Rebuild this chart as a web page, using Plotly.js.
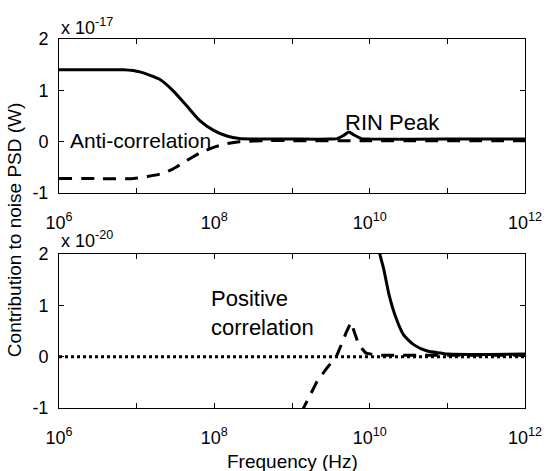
<!DOCTYPE html>
<html>
<head>
<meta charset="utf-8">
<script src="https://cdn.plot.ly/plotly-3.0.1.min.js"></script>
<style>html,body{margin:0;padding:0;background:#fff;}#chart{width:548px;height:471px;}</style>
</head>
<body>
<div id="chart"></div>
<script>
// Top panel (units of 1e-17 W)
var topSolidFreq = [1e6, 3e6, 6.8e6, 1.1e7, 2e7, 2.95e7, 4.4e7, 6.5e7, 9.8e7, 1.45e8, 2.1e8, 3.5e8, 1e9, 3e9, 3.8e9, 4.6e9, 5.4e9, 6.3e9, 7.8e9, 1e10, 1e11, 1e12];
var topSolidVal  = [1.40, 1.40, 1.40, 1.36, 1.21, 0.99, 0.70, 0.41, 0.22, 0.11, 0.06, 0.05, 0.05, 0.05, 0.06, 0.12, 0.19, 0.13, 0.06, 0.05, 0.05, 0.05];
var topDashFreq  = [1e6, 3e6, 9.1e6, 1.35e7, 2e7, 2.95e7, 4.4e7, 6.5e7, 9.8e7, 1.45e8, 2.1e8, 5e8, 1e9, 1e10, 1e12];
var topDashVal   = [-0.72, -0.72, -0.72, -0.68, -0.63, -0.53, -0.37, -0.22, -0.11, -0.04, 0.0, 0.02, 0.02, 0.02, 0.02];

// Bottom panel (units of 1e-20 W)
var botDotFreq   = [1e6, 1e12];
var botDotVal    = [0, 0];
var botDashFreq  = [3e8, 1.41e9, 2.09e9, 2.82e9, 3.72e9, 4.47e9, 5.01e9, 5.75e9, 7.24e9, 8.91e9, 1.2e10, 1e11, 1e12];
var botDashVal   = [-3, -1.0, -0.49, -0.22, 0.0, 0.29, 0.48, 0.67, 0.23, 0.07, 0.03, 0.03, 0.03];
var botSolidFreq = [1e10, 1.12e10, 1.35e10, 1.51e10, 1.78e10, 2.19e10, 2.75e10, 3.72e10, 5.5e10, 8.3e10, 1e11, 1e12];
var botSolidVal  = [3.2, 2.6, 2.0, 1.72, 1.2, 0.75, 0.42, 0.23, 0.11, 0.07, 0.05, 0.05];

var xTickVals = [1e6, 1e8, 1e10, 1e12];
var xTickText = ['10<sup>6</sup>', '10<sup>8</sup>', '10<sup>10</sup>', '10<sup>12</sup>'];
var xMinorVals = [1e7, 1e9, 1e11];
var yTickVals = [-1, 0, 1, 2];
var yTickText = ['-1', '0', '1', '2'];

var FONT = 'Liberation Sans, Arial, Helvetica, sans-serif';

var traces = [
  {x: topSolidFreq, y: topSolidVal, xaxis: 'x', yaxis: 'y', mode: 'lines',
   line: {color: '#000', width: 3, shape: 'spline', smoothing: 0.6}},
  {x: topDashFreq, y: topDashVal, xaxis: 'x', yaxis: 'y', mode: 'lines',
   line: {color: '#000', width: 3, dash: '13px,9px', shape: 'spline', smoothing: 0.6}},
  {x: botDotFreq, y: botDotVal, xaxis: 'x2', yaxis: 'y2', mode: 'lines',
   line: {color: '#000', width: 3, dash: '3px,3px'}},
  {x: botDashFreq, y: botDashVal, xaxis: 'x2', yaxis: 'y2', mode: 'lines',
   line: {color: '#000', width: 3, dash: '13px,9px'}},
  {x: botSolidFreq, y: botSolidVal, xaxis: 'x2', yaxis: 'y2', mode: 'lines',
   line: {color: '#000', width: 3, shape: 'spline', smoothing: 0.6}}
];

function xax(anchor) {
  return {type: 'log', range: [6, 12], domain: [0, 1], anchor: anchor,
    showline: true, mirror: 'ticks', linecolor: '#000', linewidth: 1,
    ticks: 'inside', ticklen: 5, tickcolor: '#000', tickwidth: 1,
    tickvals: xTickVals, ticktext: xTickText, ticklabelstandoff: 13,
    minor: {tickvals: xMinorVals, ticks: 'inside', ticklen: 5, tickcolor: '#000', tickwidth: 1, showgrid: false},
    showgrid: false, zeroline: false,
    tickfont: {family: FONT, size: 18, color: '#000'}};
}
function yax(anchor, domain) {
  return {range: [-1, 2], domain: domain, anchor: anchor,
    showline: true, mirror: 'ticks', linecolor: '#000', linewidth: 1,
    ticks: 'inside', ticklen: 5, tickcolor: '#000', tickwidth: 1,
    tickvals: yTickVals, ticktext: yTickText, ticklabelstandoff: 6,
    showgrid: false, zeroline: false,
    tickfont: {family: FONT, size: 18, color: '#000'}};
}

var layout = {
  width: 548, height: 471,
  margin: {l: 59, r: 23, t: 39, b: 63, pad: 0},
  paper_bgcolor: '#fff', plot_bgcolor: '#fff',
  showlegend: false,
  font: {family: FONT, color: '#000'},
  xaxis: xax('y'),
  yaxis: yax('x', [0.5827, 1]),
  xaxis2: xax('y2'),
  yaxis2: yax('x2', [0, 0.4173]),
  annotations: [
    {xref: 'paper', yref: 'paper', x: 0, y: 1.035, xanchor: 'left', yanchor: 'middle',
     text: 'x 10<sup>-17</sup>', showarrow: false, font: {family: FONT, size: 18, color: '#000'}},
    {xref: 'paper', yref: 'paper', x: 0, y: 0.456, xanchor: 'left', yanchor: 'middle',
     text: 'x 10<sup>-20</sup>', showarrow: false, font: {family: FONT, size: 18, color: '#000'}},
    {xref: 'x', yref: 'y', x: 6.11, y: 0.03, xanchor: 'left', yanchor: 'middle',
     text: 'Anti-correlation', showarrow: false, font: {family: FONT, size: 21, color: '#000'}},
    {xref: 'x', yref: 'y', x: 9.66, y: 0.38, xanchor: 'left', yanchor: 'middle',
     text: 'RIN Peak', showarrow: false, font: {family: FONT, size: 22, color: '#000'}},
    {xref: 'x2', yref: 'y2', x: 7.93, y: 0.85, xanchor: 'left', yanchor: 'middle', align: 'left',
     text: 'Positive<br>correlation', showarrow: false, font: {family: FONT, size: 22, color: '#000'}},
    {xref: 'paper', yref: 'paper', x: 0, y: 0.482, xanchor: 'center', yanchor: 'middle', xshift: -45,
     text: 'Contribution to noise PSD (W)', textangle: -90, showarrow: false,
     font: {family: FONT, size: 19, color: '#000'}},
    {xref: 'paper', yref: 'paper', x: 0.5, y: -0.146, xanchor: 'center', yanchor: 'middle',
     text: 'Frequency (Hz)', showarrow: false, font: {family: FONT, size: 19, color: '#000'}}
  ]
};

Plotly.newPlot('chart', traces, layout, {staticPlot: true, displayModeBar: false});
</script>
</body>
</html>
